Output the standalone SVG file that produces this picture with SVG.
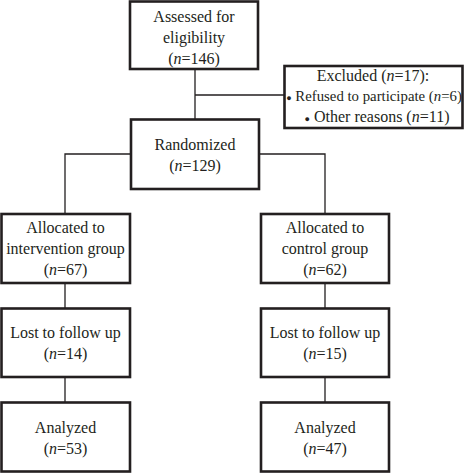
<svg xmlns="http://www.w3.org/2000/svg" width="464" height="473" viewBox="0 0 464 473" font-family="'Liberation Serif', 'Times New Roman', Tinos, 'DejaVu Serif', serif">
<style>
.box{fill:#fff;stroke:#231f20;stroke-width:2.6}
.ln{fill:none;stroke:#231f20;stroke-width:1.3}
text{font-family:'Liberation Serif','Times New Roman',Tinos,'DejaVu Serif',serif;font-size:16px;fill:#231f20;text-anchor:middle}
.i{font-style:italic}
.b{font-size:9px}
.s{font-size:14.8px}
</style>
<rect width="464" height="473" fill="#fff"/>
<g id="connectors">
<path class="ln" d="M195,69 V120 M195,95 H285 M131,154 H65 V214 M259,154 H325 V214 M65,283 V308 M325,283 V308 M65,377 V402 M325,377 V402"/>
</g>
<g id="assessed">
<rect class="box" x="130" y="1.5" width="128" height="67.5"/>
<text x="194" y="22">Assessed for</text>
<text x="194" y="43">eligibility</text>
<text x="194" y="64">(<tspan class="i">n</tspan>=146)</text>
</g>
<g id="excluded">
<rect class="box" x="284.5" y="66" width="178" height="62"/>
<text x="373" y="81">Excluded (<tspan class="i">n</tspan>=17):</text>
<text class="s" x="374" y="101"><tspan class="b">●</tspan> Refused to participate (<tspan class="i">n</tspan>=6)</text>
<text x="377" y="122"><tspan class="b">●</tspan> Other reasons (<tspan class="i">n</tspan>=11)</text>
</g>
<g id="randomized">
<rect class="box" x="131" y="119.5" width="128" height="69.5"/>
<text x="195" y="150">Randomized</text>
<text x="195" y="171">(<tspan class="i">n</tspan>=129)</text>
</g>
<g id="alloc-int">
<rect class="box" x="1.5" y="214" width="128.5" height="69"/>
<text x="65.5" y="233">Allocated to</text>
<text x="65.5" y="254">intervention group</text>
<text x="65.5" y="275">(<tspan class="i">n</tspan>=67)</text>
</g>
<g id="alloc-ctrl">
<rect class="box" x="261" y="214" width="128" height="69"/>
<text x="325" y="233">Allocated to</text>
<text x="325" y="254">control group</text>
<text x="325" y="275">(<tspan class="i">n</tspan>=62)</text>
</g>
<g id="lost-int">
<rect class="box" x="1.5" y="308.5" width="128.5" height="68.5"/>
<text x="65.5" y="338">Lost to follow up</text>
<text x="65.5" y="359">(<tspan class="i">n</tspan>=14)</text>
</g>
<g id="lost-ctrl">
<rect class="box" x="261" y="308.5" width="128" height="68.5"/>
<text x="325" y="338">Lost to follow up</text>
<text x="325" y="359">(<tspan class="i">n</tspan>=15)</text>
</g>
<g id="analyzed-int">
<rect class="box" x="1.5" y="402.5" width="128.5" height="69"/>
<text x="65.5" y="433">Analyzed</text>
<text x="65.5" y="454">(<tspan class="i">n</tspan>=53)</text>
</g>
<g id="analyzed-ctrl">
<rect class="box" x="261" y="402.5" width="128" height="69"/>
<text x="325" y="433">Analyzed</text>
<text x="325" y="454">(<tspan class="i">n</tspan>=47)</text>
</g>
</svg>
